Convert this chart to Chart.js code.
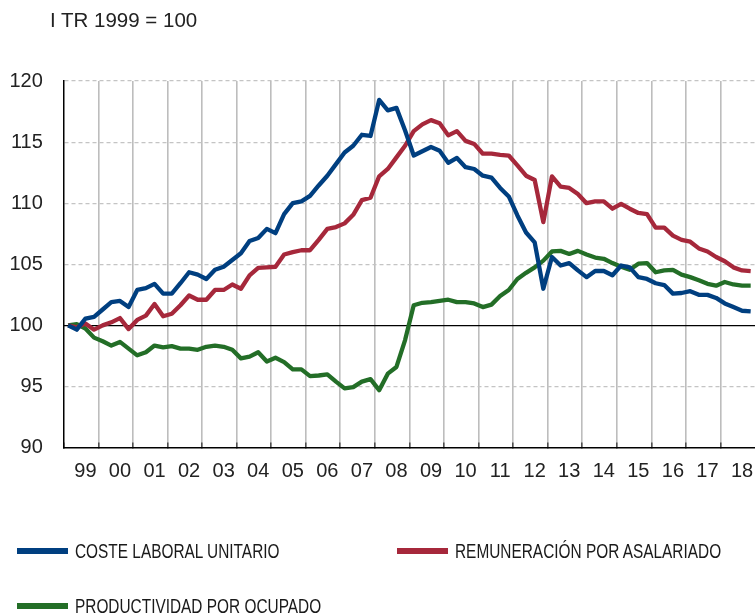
<!DOCTYPE html>
<html><head><meta charset="utf-8">
<script src="https://cdn.jsdelivr.net/npm/chart.js@4.4.1/dist/chart.umd.min.js"></script>
<style>
html,body{margin:0;padding:0;background:#fff;}
#wrap{position:relative;width:755px;height:616px;overflow:hidden;}
canvas{position:absolute;left:0;top:0;}
#title{position:absolute;left:50px;top:9px;font:20.5px "Liberation Sans",Arial,sans-serif;color:#222;white-space:nowrap;line-height:22px;}
.leg{position:absolute;display:flex;align-items:center;height:22px;font:20px "Liberation Sans",Arial,sans-serif;color:#1a1a1a;white-space:nowrap;}
.leg .sw{width:51px;height:6px;margin-right:7px;flex:none;}
.leg .tx{display:inline-block;transform:scaleX(0.77);transform-origin:0 50%;}
</style></head><body>
<div id="wrap"><canvas id="c" width="755" height="616"></canvas><div id="title"></div><div id="legend"></div></div>
<script>
const TITLE = 'I TR 1999 = 100';
const years = ['99','00','01','02','03','04','05','06','07','08','09','10','11','12','13','14','15','16','17','18'];
const quarterNames = ['I','II','III','IV'];
const yTicks = [90, 95, 100, 105, 110, 115, 120];

const costeLaboralUnitario = [
  100.0, 99.65, 100.55, 100.7,
  101.3, 101.9, 102.0, 101.5,
  102.9, 103.05, 103.4, 102.6,
  102.6, 103.45, 104.35, 104.15,
  103.8, 104.55, 104.8, 105.35,
  105.9, 106.9, 107.15, 107.9,
  107.55, 109.1, 110.0, 110.15,
  110.6, 111.45, 112.25, 113.2,
  114.15, 114.7, 115.6, 115.5,
  118.45, 117.6, 117.8, 115.95,
  113.9, 114.25, 114.6, 114.3,
  113.3, 113.7, 112.95, 112.8,
  112.25, 112.1, 111.25, 110.55,
  109.0, 107.6, 106.8, 103.0,
  105.6, 104.9, 105.1, 104.5,
  103.95, 104.45, 104.45, 104.1,
  104.9, 104.75, 103.95, 103.8,
  103.45, 103.3, 102.6, 102.65,
  102.8, 102.5, 102.5, 102.25,
  101.8, 101.5, 101.2, 101.15
];
const remuneracionPorAsalariado = [
  100.0, 99.85, 100.15, 99.65,
  100.0, 100.25, 100.6, 99.7,
  100.45, 100.8, 101.75, 100.75,
  100.95, 101.65, 102.45, 102.1,
  102.1, 102.9, 102.9, 103.35,
  103.0, 104.1, 104.7, 104.75,
  104.8, 105.8, 106.0, 106.15,
  106.15, 107.0, 107.9, 108.05,
  108.35, 109.05, 110.25, 110.45,
  112.2, 112.8, 113.75, 114.7,
  115.9, 116.45, 116.8, 116.55,
  115.55, 115.9, 115.1, 114.85,
  114.05, 114.05, 113.95, 113.9,
  113.1, 112.25, 111.9, 108.45,
  112.2, 111.35, 111.25, 110.75,
  110.0, 110.15, 110.15, 109.55,
  109.95, 109.55, 109.2, 109.1,
  108.0, 108.0, 107.35, 107.0,
  106.85, 106.3, 106.05, 105.6,
  105.25, 104.75, 104.5, 104.45
];
const productividadPorOcupado = [
  100.0, 100.1, 99.75, 99.0,
  98.7, 98.35, 98.65, 98.1,
  97.55, 97.8, 98.35, 98.2,
  98.3, 98.1, 98.1, 98.0,
  98.25, 98.35, 98.25, 98.0,
  97.3, 97.45, 97.8, 97.05,
  97.35, 97.0, 96.4, 96.4,
  95.85, 95.9, 96.0, 95.4,
  94.85, 94.95, 95.4, 95.6,
  94.7, 96.05, 96.6, 98.8,
  101.65, 101.85, 101.9, 102.0,
  102.1, 101.9, 101.9, 101.8,
  101.5, 101.7, 102.4, 102.9,
  103.8, 104.3, 104.75, 105.3,
  106.05, 106.1, 105.85, 106.1,
  105.8, 105.55, 105.45, 105.1,
  104.8, 104.55, 105.05, 105.1,
  104.35, 104.5, 104.55, 104.15,
  103.95, 103.7, 103.4, 103.25,
  103.55, 103.35, 103.25, 103.25
];
const seriesNames = ['COSTE LABORAL UNITARIO', 'REMUNERACIÓN POR ASALARIADO', 'PRODUCTIVIDAD POR OCUPADO'];
const seriesColors = ['#003f80', '#a6283b', '#236e27'];

// categories: one per quarter
const categories = [];
years.forEach(y => quarterNames.forEach(q => categories.push(q + ' TR ' + y)));

document.getElementById('title').textContent = TITLE;

const TICKFONT = {family: '"Liberation Sans", Arial, sans-serif', size: 20};
const chart = new Chart(document.getElementById('c'), {
  type: 'line',
  data: {
    labels: categories,
    datasets: [
      {label: seriesNames[0], data: costeLaboralUnitario, borderColor: seriesColors[0], yAxisID: 'y'},
      {label: seriesNames[1], data: remuneracionPorAsalariado, borderColor: seriesColors[1], yAxisID: 'y'},
      {label: seriesNames[2], data: productividadPorOcupado, borderColor: seriesColors[2], yAxisID: 'y'}
    ]
  },
  options: {
    responsive: false,
    animation: false,
    layout: {padding: {top: 81, right: 0, bottom: 0, left: 0}},
    plugins: {legend: {display: false}, title: {display: false}, tooltip: {enabled: false}},
    elements: {
      point: {radius: 0, hoverRadius: 0},
      line: {tension: 0, borderWidth: 4.3, borderJoinStyle: 'round', borderCapStyle: 'butt', fill: false}
    },
    scales: {
      x: {
        type: 'category',
        offset: true,
        grid: {
          offset: true,
          color: c => (c.index !== undefined && c.index % 4 === 0 && c.index > 0) ? '#bdbdbd' : 'rgba(0,0,0,0)',
          lineWidth: 1.6,
          drawTicks: true,
          tickLength: -5,
          tickColor: c => (c.index !== undefined && c.index % 4 === 0) ? '#444' : 'rgba(0,0,0,0)',
          tickWidth: 1.4
        },
        border: {display: true, color: '#000', width: 1.5},
        ticks: {
          autoSkip: false, maxRotation: 0, minRotation: 0, padding: 17,
          color: '#222', font: TICKFONT,
          callback: (v, i) => (i % 4 === 2 ? years[Math.floor(i / 4)] : '')
        },
        afterFit: s => { s.height = 616 - 447.6; s.paddingLeft = 0; s.paddingRight = 0; }
      },
      y: {
        position: 'left',
        min: 90, max: 120,
        afterBuildTicks: s => { s.ticks = yTicks.map(v => ({value: v})); },
        ticks: {padding: 21, color: '#222', font: TICKFONT},
        grid: {
          color: c => (c.tick && (c.tick.value === 100 || c.tick.value === 90)) ? 'rgba(0,0,0,0)' : '#c4c4c4',
          lineWidth: 1.2, drawTicks: false
        },
        border: {display: true, color: '#000', width: 1.5, dash: [4, 3]},
        afterFit: s => { s.width = 63.8; s.paddingTop = 0; s.paddingBottom = 0; }
      },
      y100: {
        position: 'left',
        min: 90, max: 120,
        afterBuildTicks: s => { s.ticks = [{value: 100}]; },
        ticks: {display: false},
        grid: {color: '#000', lineWidth: 1.2, drawTicks: false},
        border: {display: false},
        afterFit: s => { s.width = 0; }
      }
    }
  }
});

// HTML legend built from the chart datasets
const legendPos = [[17, 540], [397, 540], [17, 595]];
const legend = document.getElementById('legend');
chart.data.datasets.forEach((ds, i) => {
  const d = document.createElement('div');
  d.className = 'leg';
  d.style.left = legendPos[i][0] + 'px';
  d.style.top = legendPos[i][1] + 'px';
  const sw = document.createElement('span');
  sw.className = 'sw';
  sw.style.background = ds.borderColor;
  const t = document.createElement('span');
  t.className = 'tx';
  t.textContent = ds.label;
  d.appendChild(sw); d.appendChild(t);
  legend.appendChild(d);
});
</script>
</body></html>
